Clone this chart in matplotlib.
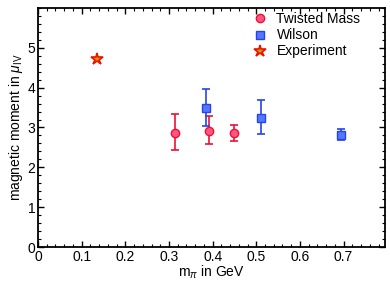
import numpy as np
import matplotlib.pyplot as plt
from matplotlib.ticker import MultipleLocator
from matplotlib.lines import Line2D

plt.rcParams['font.family'] = ['Liberation Sans', 'DejaVu Sans']
plt.rcParams['mathtext.fontset'] = 'custom'
plt.rcParams['mathtext.rm'] = 'Liberation Sans'
plt.rcParams['mathtext.it'] = 'Liberation Sans:italic'

# Twisted Mass
tm_x = [0.314, 0.392, 0.450]
tm_y = [2.87, 2.92, 2.85]
tm_lo = [2.43, 2.575, 2.66]
tm_hi = [3.33, 3.29, 3.06]

# Wilson
w_x = [0.385, 0.511, 0.695]
w_y = [3.50, 3.25, 2.80]
w_lo = [3.03, 2.84, 2.675]
w_hi = [3.97, 3.69, 2.95]

# Experiment
exp_x = [0.135]
exp_y = [4.72]

labels = ['Twisted Mass', 'Wilson', 'Experiment']

fig = plt.figure(figsize=(3.9, 2.83), dpi=100)
ax = fig.add_axes([0.0974, 0.127, 0.89, 0.845])

tm_err = [np.array(tm_y) - np.array(tm_lo), np.array(tm_hi) - np.array(tm_y)]
w_err = [np.array(w_y) - np.array(w_lo), np.array(w_hi) - np.array(w_y)]

ax.errorbar(tm_x, tm_y, yerr=tm_err, fmt='o', color='#ee1133', mfc='#ff5580',
            mec='#ee1133', ms=6, capsize=3, elinewidth=1.2, capthick=1.2)
ax.errorbar(w_x, w_y, yerr=w_err, fmt='s', color='#2244ee', mfc='#5577ff',
            mec='#2244ee', ms=5.5, capsize=3, elinewidth=1.2, capthick=1.2)
ax.plot(exp_x, exp_y, '*', mfc='#c8a000', mec='#ee1100',
        mew=1.2, ms=9, ls='none')

ax.set_xlim(0, 0.795)
ax.set_ylim(0, 6)
ax.set_xticks([0, 0.1, 0.2, 0.3, 0.4, 0.5, 0.6, 0.7])
ax.set_xticklabels(['0', '0.1', '0.2', '0.3', '0.4', '0.5', '0.6', '0.7'])
ax.set_yticks([0, 1, 2, 3, 4, 5])
ax.xaxis.set_minor_locator(MultipleLocator(0.02))
ax.yaxis.set_minor_locator(MultipleLocator(0.2))
ax.tick_params(which='both', direction='in', top=True, right=True, labelsize=10, pad=2)
ax.tick_params(which='major', length=4, width=1)
ax.tick_params(which='minor', length=2, width=0.8)
for s in ax.spines.values():
    s.set_linewidth(1.3)

ax.set_xlabel(r'm$_\pi$ in GeV', fontsize=10, labelpad=0)
ax.set_ylabel(r'magnetic moment in $\mu_{\mathrm{IV}}$', fontsize=10, labelpad=2)

handles = [
    Line2D([], [], marker='o', ls='none', mfc='#ff5580', mec='#ee1133', ms=6),
    Line2D([], [], marker='s', ls='none', mfc='#5577ff', mec='#2244ee', ms=5.5),
    Line2D([], [], marker='*', ls='none', mfc='#c8a000', mec='#ee1100', mew=1.2, ms=9),
]
ax.legend(handles, labels, loc='upper right', bbox_to_anchor=(0.945, 1.005),
          frameon=False, fontsize=10, handletextpad=0.6, borderaxespad=0,
          labelspacing=0.15, handlelength=1.2)

fig.savefig('out.png', dpi=100)
